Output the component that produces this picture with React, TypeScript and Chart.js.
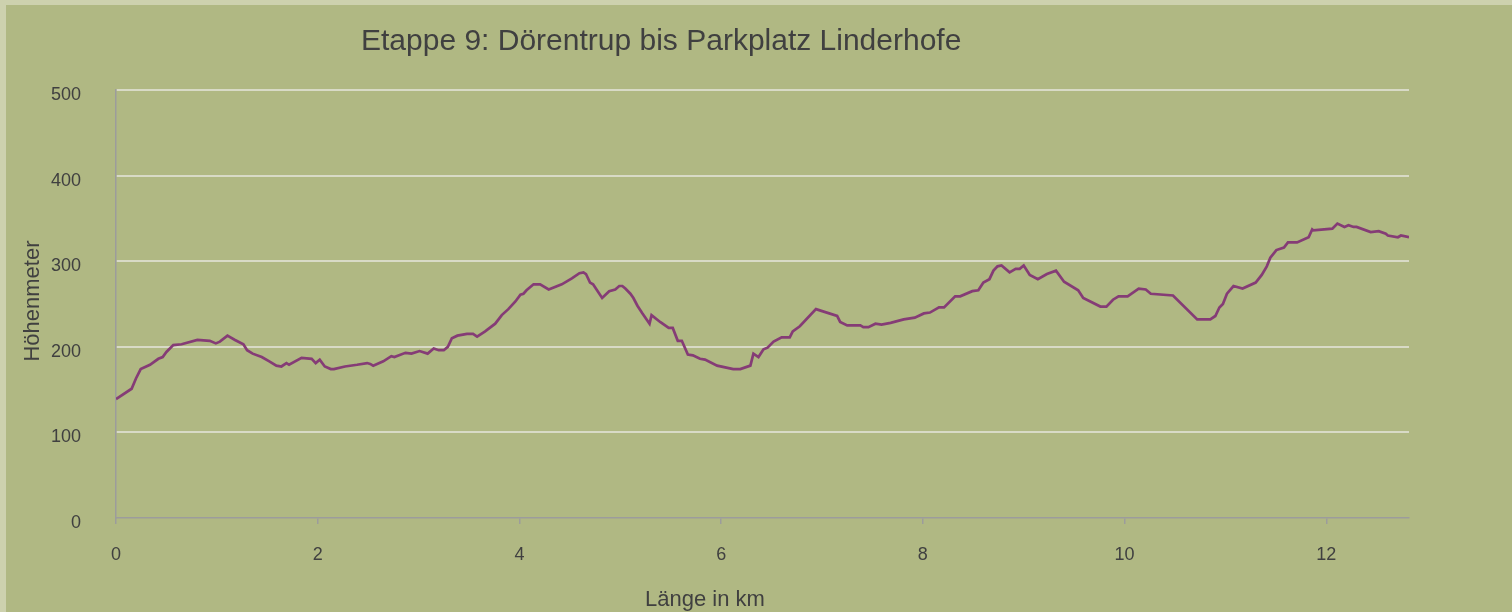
import React, { useEffect, useRef } from "react";
import { Chart, registerables } from "chart.js";

Chart.register(...registerables);

const TITLE = "Etappe 9: Dörentrup bis Parkplatz Linderhofe";
const X_TITLE = "Länge in km";
const Y_TITLE = "Höhenmeter";

const distanceKm = [
  0, 0.155, 0.198, 0.245, 0.337, 0.42, 0.463, 0.5, 0.568, 0.65, 0.807, 0.93, 0.99, 1.03, 1.105, 1.18,
  1.263, 1.3, 1.355, 1.445, 1.52, 1.59, 1.64, 1.69, 1.716, 1.84, 1.94, 1.98, 2.02, 2.07, 2.13, 2.16,
  2.27, 2.39, 2.49, 2.52, 2.55, 2.65, 2.73, 2.76, 2.87, 2.93, 3.01, 3.09, 3.15, 3.2, 3.25, 3.29,
  3.33, 3.385, 3.48, 3.54, 3.58, 3.66, 3.76, 3.825, 3.89, 3.96, 4.01, 4.04, 4.07, 4.14, 4.205, 4.29,
  4.42, 4.52, 4.595, 4.635, 4.66, 4.7, 4.73, 4.82, 4.89, 4.95, 4.99, 5.02, 5.05, 5.1, 5.13, 5.17,
  5.22, 5.29, 5.31, 5.395, 5.48, 5.52, 5.57, 5.61, 5.67, 5.72, 5.79, 5.84, 5.96, 6.12, 6.19, 6.29,
  6.32, 6.37, 6.42, 6.46, 6.52, 6.6, 6.68, 6.71, 6.78, 6.94, 7.15, 7.18, 7.25, 7.38, 7.41, 7.46,
  7.53, 7.59, 7.68, 7.81, 7.92, 8.01, 8.07, 8.16, 8.21, 8.32, 8.37, 8.49, 8.55, 8.6, 8.66, 8.7,
  8.74, 8.78, 8.86, 8.92, 8.96, 9.0, 9.06, 9.14, 9.23, 9.32, 9.4, 9.54, 9.59, 9.76, 9.82, 9.885,
  9.94, 10.03, 10.14, 10.21, 10.26, 10.48, 10.72, 10.85, 10.9, 10.94, 10.975, 11.015, 11.08, 11.17, 11.3, 11.36,
  11.41, 11.445, 11.505, 11.58, 11.62, 11.71, 11.825, 11.86, 11.87, 12.06, 12.11, 12.18, 12.22, 12.27, 12.3, 12.44,
  12.52, 12.59, 12.61, 12.71, 12.74, 12.82,
];

const elevationM = [
  139, 151, 163, 174, 179, 186, 188, 194, 202, 203, 208, 207, 204, 206, 213, 208,
  203, 196, 192, 188, 183, 178, 177, 181, 179, 187, 186, 181, 185, 177, 174, 174,
  177, 179, 181, 180, 178, 183, 189, 188, 193, 192, 195, 192, 198, 196, 196, 200,
  210, 213, 215, 215, 212, 218, 227, 237, 244, 253, 261, 262, 266, 273, 273, 267,
  273, 280, 286, 287, 285, 275, 273, 257, 265, 267, 271, 271, 268, 262, 257, 248,
  239, 227, 237, 229, 222, 222, 207, 207, 191, 190, 186, 185, 178, 174, 174, 178,
  192, 188, 197, 199, 206, 211, 211, 218, 224, 244, 236, 229, 225, 225, 223, 223,
  227, 226, 228, 232, 234, 239, 240, 246, 246, 259, 259, 265, 266, 275, 279, 289,
  294, 295, 287, 291, 291, 295, 284, 279, 285, 289, 276, 266, 257, 247, 247, 255,
  259, 259, 268, 267, 262, 260, 232, 232, 236, 246, 250, 262, 271, 268, 275, 284,
  294, 304, 313, 316, 322, 322, 328, 337, 336, 338, 344, 340, 342, 340, 340, 334,
  335, 332, 330, 328, 330, 328,
];

const X_MAX = 12.82;
const Y_TICKS = [0, 100, 200, 300, 400, 500];

const FONT = "'Liberation Sans', Arial, sans-serif";
const TEXT_COLOR = "#404040";
const BG = "#b0b883";
const BORDER_BG = "#cdd1ae";
const GRID = "#d8dac6";
const AXIS = "#9c9c9c";
const LINE = "#853c76";

const decorPlugin = {
  id: "decor",
  beforeDraw(chart: any) {
    const { ctx, width, height } = chart;
    ctx.save();
    ctx.fillStyle = BORDER_BG;
    ctx.fillRect(0, 0, width, height);
    ctx.fillStyle = BG;
    ctx.fillRect(6, 5, width - 6, height - 5);
    ctx.restore();
  },
  afterDraw(chart: any) {
    const { ctx } = chart;
    ctx.save();
    ctx.fillStyle = TEXT_COLOR;
    ctx.textBaseline = "alphabetic";
    ctx.font = `30px ${FONT}`;
    ctx.textAlign = "left";
    ctx.fillText(TITLE, 361, 50);
    ctx.font = `22px ${FONT}`;
    ctx.textAlign = "center";
    ctx.fillText(X_TITLE, 705, 606);
    ctx.translate(39, 301);
    ctx.rotate(-Math.PI / 2);
    ctx.fillText(Y_TITLE, 0, 0);
    ctx.restore();
  },
};

export default function App() {
  const canvasRef = useRef<HTMLCanvasElement | null>(null);

  useEffect(() => {
    document.body.style.margin = "0";
    const canvas = canvasRef.current;
    if (!canvas) return;
    const points = distanceKm.map((x, i) => ({ x, y: elevationM[i] }));
    const chart = new Chart(canvas, {
      type: "line",
      data: {
        datasets: [
          {
            data: points,
            borderColor: LINE,
            borderWidth: 2.7,
            pointRadius: 0,
            tension: 0,
            fill: false,
          },
        ],
      },
      options: {
        animation: false,
        responsive: false,
        devicePixelRatio: 1,
        layout: { padding: { top: 90, right: 103, left: 0, bottom: 0 } },
        plugins: {
          legend: { display: false },
          title: { display: false },
          tooltip: { enabled: false },
        },
        scales: {
          x: {
            type: "linear",
            min: 0,
            max: X_MAX,
            afterFit: (scale: any) => {
              scale.height = 94;
            },
            ticks: {
              stepSize: 2,
              includeBounds: false,
              padding: 20,
              color: TEXT_COLOR,
              font: { family: FONT, size: 18 },
              maxRotation: 0,
            },
            grid: {
              drawOnChartArea: false,
              drawTicks: true,
              tickLength: 6,
              color: AXIS,
              lineWidth: 1.5,
            },
            border: { display: true, color: AXIS, width: 1.5 },
          },
          y: {
            type: "linear",
            min: 0,
            max: 500,
            afterFit: (scale: any) => {
              scale.width = 116;
            },
            afterBuildTicks: (scale: any) => {
              scale.ticks = Y_TICKS.map((v) => ({ value: v }));
            },
            ticks: {
              padding: 35,
              labelOffset: 5,
              color: TEXT_COLOR,
              font: { family: FONT, size: 18 },
            },
            grid: {
              drawTicks: false,
              color: (c: any) => (c.tick && c.tick.value === 0 ? "rgba(0,0,0,0)" : GRID),
              lineWidth: 2,
            },
            border: { display: true, color: AXIS, width: 1.5 },
          },
        },
      },
      plugins: [decorPlugin],
    });
    return () => chart.destroy();
  }, []);

  return (
    <div style={{ width: 1512, height: 612 }}>
      <canvas ref={canvasRef} width={1512} height={612} style={{ display: "block", width: 1512, height: 612 }} />
    </div>
  );
}
